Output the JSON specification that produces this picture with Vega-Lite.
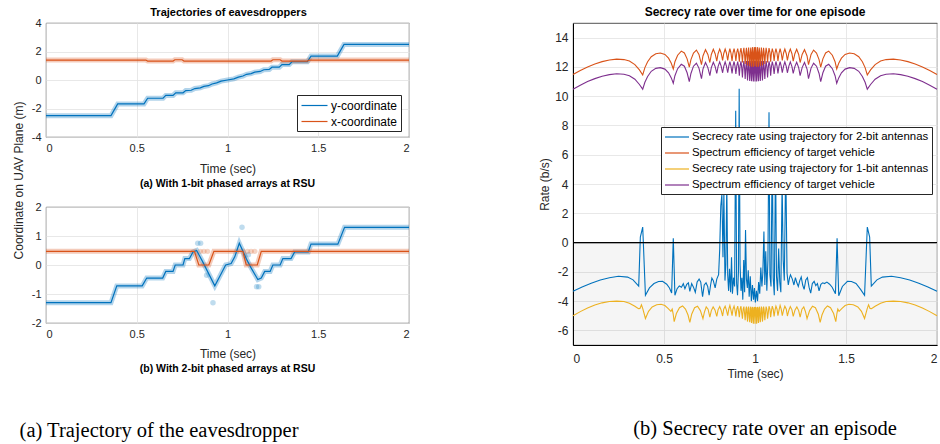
{
  "$schema": "https://vega.github.io/schema/vega-lite/v6.json",
  "background": "white",
  "padding": {"left": 11, "top": 5, "right": 0, "bottom": 0},
  "config": {
    "font": "Liberation Sans",
    "view": {"stroke": "#262626", "strokeWidth": 0.8},
    "axis": {
      "labelFontSize": 11, "labelColor": "#262626", "titleFontSize": 12, "titleFontWeight": "normal",
      "titleColor": "#262626", "gridColor": "#e2e2e2", "gridWidth": 0.8, "domain": false, "ticks": false,
      "labelPadding": 5, "titlePadding": 4
    },
    "title": {"fontSize": 11, "fontWeight": "bold", "color": "#000"},
    "line": {"strokeWidth": 1.2}
  },
  "spacing": 118,
  "resolve": {"scale": {"color": "independent"}, "legend": {"color": "independent"}},
  "hconcat": [
    {
      "title": {"text": "(a) Trajectory of the eavesdropper", "orient": "bottom", "anchor": "start", "font": "Liberation Serif", "fontSize": 20.5, "fontWeight": "normal", "offset": 46, "dx": 8},
      "resolve": {"scale": {"color": "independent"}, "legend": {"color": "independent"}},
      "vconcat": [
        {
          "title": {"text": "Trajectories of eavesdroppers", "anchor": "middle", "offset": -1, "dx": 13},
          "bounds": "flush",
          "spacing": 70,
          "resolve": {"scale": {"color": "independent"}, "legend": {"color": "independent"}},
          "vconcat": [
            {
              "width": 363, "height": 114,
              "title": {"text": "(a) With 1-bit phased arrays at RSU", "orient": "bottom", "fontSize": 10.5, "offset": 5},
              "encoding": {
                "x": {"field": "t", "type": "quantitative", "scale": {"domain": [0, 2], "nice": false},
                      "axis": {"title": "Time (sec)", "values": [0, 0.5, 1, 1.5, 2], "labelExpr": "datum.value + ''", "titlePadding": 10}},
                "y": {"field": "v", "type": "quantitative", "scale": {"domain": [-4, 4], "nice": false},
                      "axis": {"title": null, "values": [-4, -2, 0, 2, 4], "labelExpr": "datum.value + ''"}}
              },
              "layer": [
                {"data": {"name": "a_y"}, "mark": {"type": "line", "color": "#0072BD", "opacity": 0.3, "strokeWidth": 5}},
                {"data": {"name": "a_x"}, "mark": {"type": "line", "color": "#D95319", "opacity": 0.3, "strokeWidth": 5}},
                {"data": {"name": "a_y"}, "mark": {"type": "line", "strokeWidth": 1.2},
                 "encoding": {"color": {"datum": "y-coordinate", "type": "nominal",
                   "scale": {"domain": ["y-coordinate", "x-coordinate"], "range": ["#0072BD", "#D95319"]},
                   "legend": {"orient": "none", "legendX": 251, "legendY": 72, "title": null, "symbolType": "M-2,0H2",
                              "symbolSize": 169, "symbolOffset": 7, "symbolStrokeWidth": 1.3, "labelFontSize": 12, "labelColor": "#000",
                              "strokeColor": "#262626", "fillColor": "white", "padding": 3, "rowPadding": 2, "labelOffset": 9, "labelLimit": 300}}}},
                {"data": {"name": "a_x"}, "mark": {"type": "line", "strokeWidth": 1.2},
                 "encoding": {"color": {"datum": "x-coordinate", "type": "nominal"}}}
              ]
            },
            {
              "width": 363, "height": 116,
              "title": {"text": "(b) With 2-bit phased arrays at RSU", "orient": "bottom", "fontSize": 10.5, "offset": 5},
              "encoding": {
                "x": {"field": "t", "type": "quantitative", "scale": {"domain": [0, 2], "nice": false},
                      "axis": {"title": "Time (sec)", "values": [0, 0.5, 1, 1.5, 2], "labelExpr": "datum.value + ''", "titlePadding": 9}},
                "y": {"field": "v", "type": "quantitative", "scale": {"domain": [-2, 2], "nice": false},
                      "axis": {"title": "Coordinate on UAV Plane (m)", "values": [-2, -1, 0, 1, 2], "labelExpr": "datum.value + ''",
                               "titleX": -21, "titleY": -27, "titleAlign": "center", "titleAngle": 270, "titleBaseline": "bottom"}}
              },
              "layer": [
                {"data": {"name": "b_y"}, "mark": {"type": "line", "color": "#0072BD", "opacity": 0.3, "strokeWidth": 5}},
                {"data": {"name": "b_x"}, "mark": {"type": "line", "color": "#D95319", "opacity": 0.3, "strokeWidth": 5}},
                {"data": {"name": "b_py"}, "mark": {"type": "circle", "color": "#0072BD", "opacity": 0.25, "size": 30}},
                {"data": {"name": "b_px"}, "mark": {"type": "circle", "color": "#D95319", "opacity": 0.25, "size": 30}},
                {"data": {"name": "b_y"}, "mark": {"type": "line", "color": "#0072BD", "strokeWidth": 1.2}},
                {"data": {"name": "b_x"}, "mark": {"type": "line", "color": "#D95319", "strokeWidth": 1.2}}
              ]
            }
          ]
        }
      ]
    },
    {
      "title": {"text": "(b) Secrecy rate over an episode", "orient": "bottom", "anchor": "start", "font": "Liberation Serif", "fontSize": 20.5, "fontWeight": "normal", "offset": 40, "dx": 95},
      "resolve": {"scale": {"color": "independent"}, "legend": {"color": "independent"}},
      "vconcat": [
        {
          "width": 364, "height": 322,
          "title": {"text": "Secrecy rate over time for one episode", "fontSize": 12, "offset": 4},
          "encoding": {
            "x": {"field": "t", "type": "quantitative", "scale": {"domain": [0, 2], "nice": false},
                  "axis": {"title": "Time (sec)", "values": [0, 0.5, 1, 1.5, 2], "labelExpr": "datum.value + ''",
                           "labelFontSize": 12, "labelPadding": 8, "domain": true, "domainColor": "#000", "domainWidth": 1.2}},
            "y": {"field": "v", "type": "quantitative", "scale": {"domain": [-7, 15], "nice": false},
                  "axis": {"title": "Rate (b/s)", "values": [-6, -4, -2, 0, 2, 4, 6, 8, 10, 12, 14], "labelExpr": "datum.value + ''",
                           "labelFontSize": 12, "titlePadding": 3, "domain": true, "domainColor": "#000", "domainWidth": 1}}
          },
          "layer": [
            {"data": {"values": [{"t": 0, "t2": 2, "v": -7, "v2": 0}]},
             "mark": {"type": "rect", "color": "#000", "opacity": 0.04},
             "encoding": {"x2": {"field": "t2"}, "y2": {"field": "v2"}}},
            {"data": {"name": "r_se1"}, "mark": {"type": "line", "strokeWidth": 1.1},
             "encoding": {"color": {"datum": "se1", "type": "nominal",
               "scale": {"domain": ["s2", "se2", "s1", "se1"], "range": ["#0072BD", "#D95319", "#EDB120", "#7E2F8E"]},
               "legend": {"orient": "none", "legendX": 88, "legendY": 104, "title": null, "symbolType": "M-2,0H2",
                          "symbolSize": 144, "symbolOffset": 6, "symbolStrokeWidth": 1.5, "labelFontSize": 11.4, "labelColor": "#000",
                          "strokeColor": "#262626", "fillColor": "white", "padding": 3, "rowPadding": 3, "labelOffset": 8, "labelLimit": 400,
                          "labelExpr": "datum.value == 's2' ? 'Secrecy rate using trajectory for 2-bit antennas' : datum.value == 's1' ? 'Secrecy rate using trajectory for 1-bit antennas' : 'Spectrum efficiency of target vehicle'"}}}},
            {"data": {"name": "r_se2"}, "mark": {"type": "line", "strokeWidth": 1.1},
             "encoding": {"color": {"datum": "se2", "type": "nominal"}}},
            {"data": {"name": "r_s1"}, "mark": {"type": "line", "strokeWidth": 1.1},
             "encoding": {"color": {"datum": "s1", "type": "nominal"}}},
            {"data": {"name": "r_s2"}, "mark": {"type": "line", "strokeWidth": 1.1},
             "encoding": {"color": {"datum": "s2", "type": "nominal"}}},
            {"data": {"values": [{"t": 0, "t2": 2, "v": 0}]},
             "mark": {"type": "rule", "color": "#000", "strokeWidth": 1.3},
             "encoding": {"x2": {"field": "t2"}}}
          ]
        }
      ]
    }
  ],
  "datasets": {
    "a_y": [{"t":0,"v":-2.5},{"t":0.358,"v":-2.5},{"t":0.395,"v":-1.68},{"t":0.54,"v":-1.68},{"t":0.56,"v":-1.28},{"t":0.645,"v":-1.28},{"t":0.66,"v":-1.08},{"t":0.7,"v":-1.08},{"t":0.715,"v":-0.9},{"t":0.755,"v":-0.9},{"t":0.77,"v":-0.74},{"t":0.8,"v":-0.72},{"t":0.82,"v":-0.6},{"t":0.85,"v":-0.55},{"t":0.87,"v":-0.45},{"t":0.895,"v":-0.4},{"t":0.915,"v":-0.28},{"t":0.94,"v":-0.2},{"t":0.965,"v":-0.08},{"t":1,"v":0},{"t":1.035,"v":0.08},{"t":1.06,"v":0.2},{"t":1.085,"v":0.28},{"t":1.105,"v":0.4},{"t":1.13,"v":0.45},{"t":1.15,"v":0.55},{"t":1.18,"v":0.6},{"t":1.2,"v":0.72},{"t":1.23,"v":0.74},{"t":1.245,"v":0.9},{"t":1.285,"v":0.9},{"t":1.3,"v":1.08},{"t":1.34,"v":1.08},{"t":1.355,"v":1.28},{"t":1.44,"v":1.28},{"t":1.46,"v":1.68},{"t":1.605,"v":1.68},{"t":1.642,"v":2.5},{"t":2,"v":2.5}],
    "a_x": [{"t":0,"v":1.4},{"t":0.55,"v":1.4},{"t":0.56,"v":1.33},{"t":0.7,"v":1.33},{"t":0.71,"v":1.42},{"t":0.75,"v":1.42},{"t":0.76,"v":1.33},{"t":1.24,"v":1.33},{"t":1.25,"v":1.42},{"t":1.29,"v":1.42},{"t":1.3,"v":1.33},{"t":1.44,"v":1.33},{"t":1.45,"v":1.4},{"t":2,"v":1.4}],
    "b_y": [{"t":0,"v":-1.3},{"t":0.358,"v":-1.3},{"t":0.39,"v":-0.72},{"t":0.53,"v":-0.72},{"t":0.555,"v":-0.45},{"t":0.643,"v":-0.45},{"t":0.66,"v":-0.22},{"t":0.7,"v":-0.22},{"t":0.712,"v":0},{"t":0.755,"v":0},{"t":0.765,"v":0.22},{"t":0.79,"v":0.22},{"t":0.81,"v":0.45},{"t":0.83,"v":0.5},{"t":0.86,"v":0.15},{"t":0.93,"v":-0.72},{"t":0.965,"v":-0.3},{"t":0.99,"v":0},{"t":1.02,"v":0.05},{"t":1.04,"v":0.28},{"t":1.065,"v":0.75},{"t":1.105,"v":0.2},{"t":1.13,"v":-0.1},{"t":1.167,"v":-0.5},{"t":1.186,"v":-0.45},{"t":1.205,"v":-0.22},{"t":1.235,"v":-0.22},{"t":1.25,"v":0},{"t":1.29,"v":0},{"t":1.305,"v":0.22},{"t":1.35,"v":0.22},{"t":1.37,"v":0.45},{"t":1.445,"v":0.45},{"t":1.46,"v":0.72},{"t":1.608,"v":0.72},{"t":1.645,"v":1.3},{"t":2,"v":1.3}],
    "b_x": [{"t":0,"v":0.47},{"t":0.818,"v":0.47},{"t":0.842,"v":0},{"t":0.897,"v":0},{"t":0.925,"v":0.47},{"t":1.085,"v":0.47},{"t":1.103,"v":0},{"t":1.164,"v":0},{"t":1.186,"v":0.47},{"t":2,"v":0.47}],
    "b_py": [{"t":0.836,"v":0.75},{"t":0.852,"v":0.75},{"t":0.885,"v":-0.35},{"t":0.92,"v":-1.3},{"t":1.08,"v":1.3},{"t":1.115,"v":0.35},{"t":1.16,"v":-0.75},{"t":1.172,"v":-0.75}],
    "b_px": [{"t":0.85,"v":0.47},{"t":0.87,"v":0.47},{"t":0.89,"v":0.47},{"t":1.11,"v":0.47},{"t":1.13,"v":0.47},{"t":1.15,"v":0.47}],
    "r_se2": [{"t":0,"v":11.48},{"t":0.04,"v":11.75},{"t":0.08,"v":12},{"t":0.12,"v":12.2},{"t":0.16,"v":12.36},{"t":0.2,"v":12.47},{"t":0.24,"v":12.53},{"t":0.28,"v":12.5},{"t":0.31,"v":12.4},{"t":0.34,"v":12.16},{"t":0.365,"v":11.8},{"t":0.383,"v":11.45},{"t":0.395,"v":11.95},{"t":0.41,"v":12.35},{"t":0.43,"v":12.7},{"t":0.455,"v":12.9},{"t":0.48,"v":12.95},{"t":0.505,"v":12.85},{"t":0.525,"v":12.6},{"t":0.54,"v":12.25},{"t":0.551,"v":11.86},{"t":0.56,"v":12.35},{"t":0.575,"v":12.8},{"t":0.595,"v":13.08},{"t":0.612,"v":12.95},{"t":0.627,"v":12.55},{"t":0.639,"v":11.98},{"t":0.648,"v":12.5},{"t":0.662,"v":12.95},{"t":0.678,"v":13.15},{"t":0.692,"v":12.85},{"t":0.706,"v":12.15},{"t":0.714,"v":12.75},{"t":0.728,"v":13.18},{"t":0.741,"v":12.85},{"t":0.752,"v":12.3},{"t":0.76,"v":12.85},{"t":0.771,"v":13.2},{"t":0.781,"v":12.9},{"t":0.79,"v":12.4},{"t":0.797,"v":12.9},{"t":0.806,"v":13.22},{"t":0.814,"v":12.95},{"t":0.822,"v":12.45},{"t":0.828,"v":12.9},{"t":0.836,"v":13.22},{"t":0.843,"v":12.95},{"t":0.85,"v":12.45},{"t":0.856,"v":12.95},{"t":0.862,"v":13.24},{"t":0.868,"v":12.95},{"t":0.874,"v":12.4},{"t":0.879,"v":12.95},{"t":0.885,"v":13.25},{"t":0.89,"v":12.95},{"t":0.895,"v":12.4},{"t":0.9,"v":13},{"t":0.905,"v":13.25},{"t":0.91,"v":12.9},{"t":0.914,"v":12.35},{"t":0.918,"v":13},{"t":0.923,"v":13.28},{"t":0.927,"v":12.9},{"t":0.931,"v":12.3},{"t":0.935,"v":13},{"t":0.939,"v":13.3},{"t":0.943,"v":12.8},{"t":0.946,"v":12.2},{"t":0.95,"v":13},{"t":0.953,"v":13.3},{"t":0.956,"v":12.7},{"t":0.959,"v":12.1},{"t":0.962,"v":13},{"t":0.965,"v":13.32},{"t":0.968,"v":12.6},{"t":0.971,"v":12.05},{"t":0.974,"v":13},{"t":0.977,"v":13.33},{"t":0.979,"v":12.5},{"t":0.981,"v":12.02},{"t":0.984,"v":13},{"t":0.987,"v":13.35},{"t":0.989,"v":12.4},{"t":0.991,"v":12},{"t":0.994,"v":13},{"t":0.997,"v":13.35},{"t":1,"v":12.05},{"t":1.003,"v":13.35},{"t":1.006,"v":13},{"t":1.009,"v":12},{"t":1.011,"v":12.4},{"t":1.013,"v":13.35},{"t":1.016,"v":13},{"t":1.019,"v":12.02},{"t":1.021,"v":12.5},{"t":1.023,"v":13.33},{"t":1.026,"v":13},{"t":1.029,"v":12.05},{"t":1.032,"v":12.6},{"t":1.035,"v":13.32},{"t":1.038,"v":13},{"t":1.041,"v":12.1},{"t":1.044,"v":12.7},{"t":1.047,"v":13.3},{"t":1.05,"v":13},{"t":1.054,"v":12.2},{"t":1.057,"v":12.8},{"t":1.061,"v":13.3},{"t":1.065,"v":13},{"t":1.069,"v":12.3},{"t":1.073,"v":12.9},{"t":1.077,"v":13.28},{"t":1.082,"v":13},{"t":1.086,"v":12.35},{"t":1.09,"v":12.9},{"t":1.095,"v":13.25},{"t":1.1,"v":13},{"t":1.105,"v":12.4},{"t":1.11,"v":12.95},{"t":1.115,"v":13.25},{"t":1.121,"v":12.95},{"t":1.126,"v":12.4},{"t":1.132,"v":12.95},{"t":1.138,"v":13.24},{"t":1.144,"v":12.95},{"t":1.15,"v":12.45},{"t":1.157,"v":12.95},{"t":1.164,"v":13.22},{"t":1.172,"v":12.9},{"t":1.178,"v":12.45},{"t":1.186,"v":12.95},{"t":1.194,"v":13.22},{"t":1.203,"v":12.9},{"t":1.21,"v":12.4},{"t":1.219,"v":12.9},{"t":1.229,"v":13.2},{"t":1.24,"v":12.85},{"t":1.248,"v":12.3},{"t":1.259,"v":12.85},{"t":1.272,"v":13.18},{"t":1.286,"v":12.75},{"t":1.294,"v":12.15},{"t":1.308,"v":12.85},{"t":1.322,"v":13.15},{"t":1.338,"v":12.95},{"t":1.352,"v":12.5},{"t":1.361,"v":11.98},{"t":1.373,"v":12.55},{"t":1.388,"v":12.95},{"t":1.405,"v":13.08},{"t":1.425,"v":12.8},{"t":1.44,"v":12.35},{"t":1.449,"v":11.86},{"t":1.46,"v":12.25},{"t":1.475,"v":12.6},{"t":1.495,"v":12.85},{"t":1.52,"v":12.95},{"t":1.545,"v":12.9},{"t":1.57,"v":12.7},{"t":1.59,"v":12.35},{"t":1.605,"v":11.95},{"t":1.617,"v":11.45},{"t":1.635,"v":11.8},{"t":1.66,"v":12.16},{"t":1.69,"v":12.4},{"t":1.72,"v":12.5},{"t":1.76,"v":12.53},{"t":1.8,"v":12.47},{"t":1.84,"v":12.36},{"t":1.88,"v":12.2},{"t":1.92,"v":12},{"t":1.96,"v":11.75},{"t":2,"v":11.48}],
    "r_se1": [{"t":0,"v":10.48},{"t":0.04,"v":10.75},{"t":0.08,"v":11},{"t":0.12,"v":11.2},{"t":0.16,"v":11.36},{"t":0.2,"v":11.47},{"t":0.24,"v":11.53},{"t":0.28,"v":11.5},{"t":0.31,"v":11.4},{"t":0.34,"v":11.16},{"t":0.365,"v":10.8},{"t":0.383,"v":10.48},{"t":0.395,"v":10.95},{"t":0.41,"v":11.35},{"t":0.43,"v":11.7},{"t":0.455,"v":11.9},{"t":0.48,"v":11.95},{"t":0.505,"v":11.85},{"t":0.525,"v":11.6},{"t":0.54,"v":11.25},{"t":0.551,"v":10.88},{"t":0.56,"v":11.4},{"t":0.575,"v":11.88},{"t":0.595,"v":12.18},{"t":0.612,"v":12.05},{"t":0.627,"v":11.6},{"t":0.639,"v":11},{"t":0.648,"v":11.55},{"t":0.662,"v":12.05},{"t":0.678,"v":12.25},{"t":0.692,"v":11.92},{"t":0.706,"v":11.2},{"t":0.714,"v":11.85},{"t":0.728,"v":12.3},{"t":0.741,"v":11.95},{"t":0.752,"v":11.4},{"t":0.76,"v":11.95},{"t":0.771,"v":12.32},{"t":0.781,"v":12.02},{"t":0.79,"v":11.55},{"t":0.797,"v":12.02},{"t":0.806,"v":12.34},{"t":0.814,"v":12.05},{"t":0.822,"v":11.6},{"t":0.828,"v":12.02},{"t":0.836,"v":12.34},{"t":0.843,"v":12.05},{"t":0.85,"v":11.6},{"t":0.856,"v":12.05},{"t":0.862,"v":12.36},{"t":0.868,"v":12.05},{"t":0.874,"v":11.55},{"t":0.879,"v":12.05},{"t":0.885,"v":12.37},{"t":0.89,"v":12.05},{"t":0.895,"v":11.52},{"t":0.9,"v":12.08},{"t":0.905,"v":12.37},{"t":0.91,"v":11.98},{"t":0.914,"v":11.4},{"t":0.918,"v":12.08},{"t":0.923,"v":12.38},{"t":0.927,"v":11.95},{"t":0.931,"v":11.28},{"t":0.935,"v":12.05},{"t":0.939,"v":12.4},{"t":0.943,"v":11.85},{"t":0.946,"v":11.18},{"t":0.95,"v":12.05},{"t":0.953,"v":12.4},{"t":0.956,"v":11.72},{"t":0.959,"v":11.08},{"t":0.962,"v":12.05},{"t":0.965,"v":12.4},{"t":0.968,"v":11.6},{"t":0.971,"v":11.04},{"t":0.974,"v":12.05},{"t":0.977,"v":12.4},{"t":0.979,"v":11.5},{"t":0.981,"v":11.02},{"t":0.984,"v":12.05},{"t":0.987,"v":12.4},{"t":0.989,"v":11.4},{"t":0.991,"v":11},{"t":0.994,"v":12.05},{"t":0.997,"v":12.4},{"t":1,"v":11},{"t":1.003,"v":12.4},{"t":1.006,"v":12.05},{"t":1.009,"v":11},{"t":1.011,"v":11.4},{"t":1.013,"v":12.4},{"t":1.016,"v":12.05},{"t":1.019,"v":11.02},{"t":1.021,"v":11.5},{"t":1.023,"v":12.4},{"t":1.026,"v":12.05},{"t":1.029,"v":11.04},{"t":1.032,"v":11.6},{"t":1.035,"v":12.4},{"t":1.038,"v":12.05},{"t":1.041,"v":11.08},{"t":1.044,"v":11.72},{"t":1.047,"v":12.4},{"t":1.05,"v":12.05},{"t":1.054,"v":11.18},{"t":1.057,"v":11.85},{"t":1.061,"v":12.4},{"t":1.065,"v":12.05},{"t":1.069,"v":11.28},{"t":1.073,"v":11.95},{"t":1.077,"v":12.38},{"t":1.082,"v":12.08},{"t":1.086,"v":11.4},{"t":1.09,"v":11.98},{"t":1.095,"v":12.37},{"t":1.1,"v":12.08},{"t":1.105,"v":11.52},{"t":1.11,"v":12.05},{"t":1.115,"v":12.37},{"t":1.121,"v":12.05},{"t":1.126,"v":11.55},{"t":1.132,"v":12.05},{"t":1.138,"v":12.36},{"t":1.144,"v":12.05},{"t":1.15,"v":11.6},{"t":1.157,"v":12.05},{"t":1.164,"v":12.34},{"t":1.172,"v":12.02},{"t":1.178,"v":11.6},{"t":1.186,"v":12.05},{"t":1.194,"v":12.34},{"t":1.203,"v":12.02},{"t":1.21,"v":11.55},{"t":1.219,"v":12.02},{"t":1.229,"v":12.32},{"t":1.24,"v":11.95},{"t":1.248,"v":11.4},{"t":1.259,"v":11.95},{"t":1.272,"v":12.3},{"t":1.286,"v":11.85},{"t":1.294,"v":11.2},{"t":1.308,"v":11.92},{"t":1.322,"v":12.25},{"t":1.338,"v":12.05},{"t":1.352,"v":11.55},{"t":1.361,"v":11},{"t":1.373,"v":11.6},{"t":1.388,"v":12.05},{"t":1.405,"v":12.18},{"t":1.425,"v":11.88},{"t":1.44,"v":11.4},{"t":1.449,"v":10.88},{"t":1.46,"v":11.25},{"t":1.475,"v":11.6},{"t":1.495,"v":11.85},{"t":1.52,"v":11.95},{"t":1.545,"v":11.9},{"t":1.57,"v":11.7},{"t":1.59,"v":11.35},{"t":1.605,"v":10.95},{"t":1.617,"v":10.48},{"t":1.635,"v":10.8},{"t":1.66,"v":11.16},{"t":1.69,"v":11.4},{"t":1.72,"v":11.5},{"t":1.76,"v":11.53},{"t":1.8,"v":11.47},{"t":1.84,"v":11.36},{"t":1.88,"v":11.2},{"t":1.92,"v":11},{"t":1.96,"v":10.75},{"t":2,"v":10.48}],
    "r_s1": [{"t":0,"v":-5},{"t":0.04,"v":-4.72},{"t":0.08,"v":-4.48},{"t":0.12,"v":-4.27},{"t":0.16,"v":-4.12},{"t":0.2,"v":-4.03},{"t":0.24,"v":-4},{"t":0.28,"v":-4.03},{"t":0.31,"v":-4.15},{"t":0.34,"v":-4.35},{"t":0.36,"v":-4.52},{"t":0.368,"v":-4.5},{"t":0.376,"v":-4.25},{"t":0.383,"v":-4.5},{"t":0.398,"v":-5.19},{"t":0.415,"v":-4.7},{"t":0.435,"v":-4.4},{"t":0.46,"v":-4.25},{"t":0.484,"v":-4.22},{"t":0.505,"v":-4.3},{"t":0.522,"v":-4.5},{"t":0.538,"v":-4.7},{"t":0.545,"v":-4.55},{"t":0.55,"v":-4.85},{"t":0.556,"v":-5.4},{"t":0.568,"v":-4.85},{"t":0.585,"v":-4.45},{"t":0.602,"v":-4.33},{"t":0.618,"v":-4.55},{"t":0.632,"v":-4.95},{"t":0.642,"v":-5.45},{"t":0.652,"v":-4.9},{"t":0.668,"v":-4.45},{"t":0.684,"v":-4.35},{"t":0.7,"v":-4.65},{"t":0.714,"v":-5.2},{"t":0.722,"v":-4.75},{"t":0.732,"v":-4.4},{"t":0.742,"v":-4.55},{"t":0.752,"v":-5.1},{"t":0.76,"v":-4.65},{"t":0.77,"v":-4.4},{"t":0.78,"v":-4.6},{"t":0.79,"v":-5.05},{"t":0.797,"v":-4.6},{"t":0.806,"v":-4.38},{"t":0.814,"v":-4.62},{"t":0.822,"v":-5.02},{"t":0.828,"v":-4.55},{"t":0.836,"v":-4.35},{"t":0.843,"v":-4.62},{"t":0.85,"v":-5},{"t":0.856,"v":-4.55},{"t":0.862,"v":-4.3},{"t":0.868,"v":-4.62},{"t":0.874,"v":-5},{"t":0.879,"v":-4.55},{"t":0.885,"v":-4.35},{"t":0.89,"v":-4.62},{"t":0.895,"v":-5.05},{"t":0.9,"v":-4.55},{"t":0.905,"v":-4.35},{"t":0.91,"v":-4.7},{"t":0.914,"v":-5.1},{"t":0.918,"v":-4.55},{"t":0.923,"v":-4.35},{"t":0.927,"v":-4.8},{"t":0.931,"v":-5.2},{"t":0.935,"v":-4.55},{"t":0.939,"v":-4.38},{"t":0.943,"v":-4.9},{"t":0.946,"v":-5.3},{"t":0.95,"v":-4.55},{"t":0.953,"v":-4.38},{"t":0.956,"v":-5},{"t":0.959,"v":-5.4},{"t":0.962,"v":-4.5},{"t":0.965,"v":-4.38},{"t":0.968,"v":-5.1},{"t":0.971,"v":-5.45},{"t":0.974,"v":-4.5},{"t":0.977,"v":-4.38},{"t":0.979,"v":-5.2},{"t":0.981,"v":-5.5},{"t":0.984,"v":-4.5},{"t":0.987,"v":-4.4},{"t":0.989,"v":-5.3},{"t":0.991,"v":-5.55},{"t":0.994,"v":-4.5},{"t":0.997,"v":-4.4},{"t":1,"v":-5.55},{"t":1.003,"v":-4.4},{"t":1.006,"v":-4.5},{"t":1.009,"v":-5.55},{"t":1.011,"v":-5.3},{"t":1.013,"v":-4.4},{"t":1.016,"v":-4.5},{"t":1.019,"v":-5.5},{"t":1.021,"v":-5.2},{"t":1.023,"v":-4.38},{"t":1.026,"v":-4.5},{"t":1.029,"v":-5.45},{"t":1.032,"v":-5.1},{"t":1.035,"v":-4.38},{"t":1.038,"v":-4.5},{"t":1.041,"v":-5.4},{"t":1.044,"v":-5},{"t":1.047,"v":-4.38},{"t":1.05,"v":-4.55},{"t":1.054,"v":-5.3},{"t":1.057,"v":-4.9},{"t":1.061,"v":-4.38},{"t":1.065,"v":-4.55},{"t":1.069,"v":-5.2},{"t":1.073,"v":-4.8},{"t":1.077,"v":-4.35},{"t":1.082,"v":-4.55},{"t":1.086,"v":-5.1},{"t":1.09,"v":-4.7},{"t":1.095,"v":-4.35},{"t":1.1,"v":-4.55},{"t":1.105,"v":-5.05},{"t":1.11,"v":-4.62},{"t":1.115,"v":-4.35},{"t":1.121,"v":-4.55},{"t":1.126,"v":-5},{"t":1.132,"v":-4.62},{"t":1.138,"v":-4.3},{"t":1.144,"v":-4.55},{"t":1.15,"v":-5},{"t":1.157,"v":-4.62},{"t":1.164,"v":-4.35},{"t":1.172,"v":-4.55},{"t":1.178,"v":-5.02},{"t":1.186,"v":-4.62},{"t":1.194,"v":-4.38},{"t":1.203,"v":-4.6},{"t":1.21,"v":-5.05},{"t":1.22,"v":-4.6},{"t":1.23,"v":-4.4},{"t":1.24,"v":-4.65},{"t":1.248,"v":-5.1},{"t":1.258,"v":-4.55},{"t":1.268,"v":-4.4},{"t":1.278,"v":-4.75},{"t":1.286,"v":-5.2},{"t":1.3,"v":-4.65},{"t":1.316,"v":-4.35},{"t":1.332,"v":-4.45},{"t":1.348,"v":-4.9},{"t":1.358,"v":-5.45},{"t":1.368,"v":-4.95},{"t":1.382,"v":-4.55},{"t":1.398,"v":-4.33},{"t":1.415,"v":-4.45},{"t":1.432,"v":-4.85},{"t":1.444,"v":-5.4},{"t":1.45,"v":-4.85},{"t":1.455,"v":-4.55},{"t":1.462,"v":-4.7},{"t":1.478,"v":-4.5},{"t":1.495,"v":-4.3},{"t":1.516,"v":-4.22},{"t":1.54,"v":-4.25},{"t":1.565,"v":-4.4},{"t":1.585,"v":-4.7},{"t":1.602,"v":-5.19},{"t":1.617,"v":-4.5},{"t":1.624,"v":-4.25},{"t":1.632,"v":-4.5},{"t":1.64,"v":-4.52},{"t":1.66,"v":-4.35},{"t":1.69,"v":-4.15},{"t":1.72,"v":-4.03},{"t":1.76,"v":-4},{"t":1.8,"v":-4.03},{"t":1.84,"v":-4.12},{"t":1.88,"v":-4.27},{"t":1.92,"v":-4.48},{"t":1.96,"v":-4.72},{"t":2,"v":-5}],
    "r_s2": [{"t":0,"v":-3.33},{"t":0.05,"v":-3.03},{"t":0.1,"v":-2.78},{"t":0.15,"v":-2.56},{"t":0.2,"v":-2.4},{"t":0.25,"v":-2.3},{"t":0.3,"v":-2.36},{"t":0.33,"v":-2.55},{"t":0.361,"v":-2.97},{"t":0.37,"v":0.37},{"t":0.383,"v":1.06},{"t":0.398,"v":-3.6},{"t":0.42,"v":-3.1},{"t":0.445,"v":-2.8},{"t":0.47,"v":-2.66},{"t":0.492,"v":-2.65},{"t":0.515,"v":-2.85},{"t":0.53,"v":-3.1},{"t":0.542,"v":-3.45},{"t":0.551,"v":0.3},{"t":0.56,"v":-3.6},{"t":0.572,"v":-3.15},{"t":0.584,"v":-2.97},{"t":0.596,"v":-3.05},{"t":0.606,"v":-2.81},{"t":0.615,"v":-3.15},{"t":0.625,"v":-2.85},{"t":0.634,"v":-2.75},{"t":0.642,"v":-3.33},{"t":0.652,"v":-2.8},{"t":0.662,"v":-3.05},{"t":0.672,"v":-3.4},{"t":0.682,"v":-2.7},{"t":0.693,"v":-2.5},{"t":0.702,"v":-2.7},{"t":0.712,"v":-3.7},{"t":0.721,"v":-2.9},{"t":0.731,"v":-2.75},{"t":0.74,"v":-3},{"t":0.748,"v":-3.6},{"t":0.756,"v":-2.9},{"t":0.763,"v":-2.43},{"t":0.771,"v":-2.6},{"t":0.781,"v":-3.1},{"t":0.79,"v":-2.5},{"t":0.8,"v":-2.2},{"t":0.806,"v":-0.5},{"t":0.812,"v":2.5},{"t":0.818,"v":3.3},{"t":0.824,"v":-1},{"t":0.829,"v":3.5},{"t":0.835,"v":-2.6},{"t":0.84,"v":-1.5},{"t":0.845,"v":4.1},{"t":0.85,"v":-2.2},{"t":0.855,"v":-3.3},{"t":0.86,"v":-1.8},{"t":0.866,"v":-3.4},{"t":0.871,"v":-1},{"t":0.876,"v":-3.5},{"t":0.882,"v":-2.4},{"t":0.888,"v":-3},{"t":0.894,"v":9},{"t":0.899,"v":-2.8},{"t":0.904,"v":-3.6},{"t":0.909,"v":-2},{"t":0.913,"v":10.5},{"t":0.918,"v":-1.5},{"t":0.923,"v":-3.3},{"t":0.928,"v":-2.4},{"t":0.933,"v":-3.9},{"t":0.938,"v":-1.2},{"t":0.943,"v":-3.4},{"t":0.948,"v":0.85},{"t":0.953,"v":-2.5},{"t":0.958,"v":-3.1},{"t":0.963,"v":-1.9},{"t":0.968,"v":-3.7},{"t":0.974,"v":-2.3},{"t":0.98,"v":-4},{"t":0.986,"v":-2.9},{"t":0.992,"v":-3.9},{"t":0.997,"v":-3.1},{"t":1.002,"v":-4.1},{"t":1.008,"v":-3.3},{"t":1.014,"v":-4},{"t":1.02,"v":-2.7},{"t":1.026,"v":-3.5},{"t":1.032,"v":-1.7},{"t":1.038,"v":-3},{"t":1.043,"v":-2.1},{"t":1.049,"v":0.75},{"t":1.054,"v":-2.9},{"t":1.059,"v":-0.6},{"t":1.065,"v":-3.3},{"t":1.071,"v":-1.2},{"t":1.077,"v":8.9},{"t":1.082,"v":-2.2},{"t":1.088,"v":-3},{"t":1.095,"v":7},{"t":1.1,"v":-2.4},{"t":1.106,"v":-3.6},{"t":1.113,"v":6},{"t":1.118,"v":-2.3},{"t":1.124,"v":-3.3},{"t":1.13,"v":-0.4},{"t":1.136,"v":-2.7},{"t":1.142,"v":-3.4},{"t":1.149,"v":4.1},{"t":1.155,"v":-1.2},{"t":1.161,"v":-2.6},{"t":1.167,"v":3.6},{"t":1.171,"v":3.2},{"t":1.176,"v":-2.1},{"t":1.183,"v":-2.9},{"t":1.19,"v":-2.4},{"t":1.195,"v":-2.2},{"t":1.205,"v":-2.5},{"t":1.214,"v":-2.9},{"t":1.222,"v":-2.4},{"t":1.23,"v":-2.75},{"t":1.238,"v":-3},{"t":1.246,"v":-2.6},{"t":1.254,"v":-2.35},{"t":1.262,"v":-2.9},{"t":1.27,"v":-3.2},{"t":1.279,"v":-2.55},{"t":1.288,"v":-2.4},{"t":1.297,"v":-3.05},{"t":1.306,"v":-3.45},{"t":1.315,"v":-2.8},{"t":1.325,"v":-2.65},{"t":1.334,"v":-2.95},{"t":1.343,"v":-2.8},{"t":1.352,"v":-3.3},{"t":1.362,"v":-2.85},{"t":1.372,"v":-2.75},{"t":1.382,"v":-2.8},{"t":1.395,"v":-2.7},{"t":1.41,"v":-2.85},{"t":1.424,"v":-3.05},{"t":1.442,"v":-3.5},{"t":1.451,"v":0.3},{"t":1.46,"v":-3.63},{"t":1.48,"v":-3},{"t":1.508,"v":-2.65},{"t":1.53,"v":-2.66},{"t":1.555,"v":-2.8},{"t":1.58,"v":-3.2},{"t":1.602,"v":-3.6},{"t":1.617,"v":1.06},{"t":1.63,"v":0.37},{"t":1.639,"v":-2.97},{"t":1.67,"v":-2.55},{"t":1.7,"v":-2.36},{"t":1.75,"v":-2.3},{"t":1.8,"v":-2.4},{"t":1.85,"v":-2.56},{"t":1.9,"v":-2.78},{"t":1.95,"v":-3.03},{"t":2,"v":-3.33}]
  }
}
